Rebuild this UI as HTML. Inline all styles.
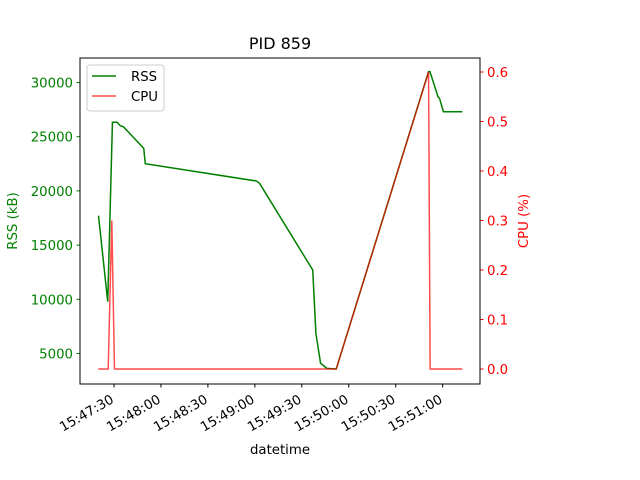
<!DOCTYPE html>
<html><head><meta charset="utf-8"><style>
html,body{margin:0;padding:0;background:#fff}
svg{display:block;font-family:"DejaVu Sans","Liberation Sans",sans-serif}
</style></head><body>
<svg id="chart" width="640" height="480" viewBox="0 0 640 480">
<rect width="640" height="480" fill="#fff"/>
<text x="280" y="49" font-size="16" text-anchor="middle">PID 859</text>
<g id="lines"></g>
<g id="xaxis"></g><g id="yleft"></g><g id="yright"></g>
<rect x="80" y="58" width="400" height="326" fill="none" stroke="#000" stroke-width="1"/>
<text x="280" y="454" font-size="13.3" text-anchor="middle">datetime</text>
<text transform="translate(17,221) rotate(-90)" font-size="13.3" text-anchor="middle" fill="green">RSS (kB)</text>
<text transform="translate(528,221) rotate(-90)" font-size="13.3" text-anchor="middle" fill="red">CPU (%)</text>
<g>
<rect x="87" y="65" width="77" height="46" rx="3" fill="#fff" fill-opacity="0.8" stroke="#ccc"/>
<line x1="92" y1="76" x2="116" y2="76" stroke="green" stroke-width="1.5"/>
<text x="131" y="81" font-size="13.3">RSS</text>
<line x1="92" y1="96" x2="116" y2="96" stroke="red" stroke-opacity="0.7" stroke-width="1.5"/>
<text x="131" y="101" font-size="13.3">CPU</text>
</g>
</svg>
<script>
// seconds after 15:47:00
const rssTimes=[20.1,26,29,32,34,36,49,50,121,123,157,159,162,166,172,231,231.9,237,238,240.5,252.6];
const rssValues=[17712,9780,26330,26330,26010,25920,23930,22510,20910,20700,12700,6860,4100,3630,3570,31000,31000,28690,28540,27300,27300];
const cpuTimes=[20,26.3,28.6,30.3,172,231,232,252.6];
const cpuValues=[0,0,0.3,0,0,0.6,0,0];
const xTickSecs=[30,60,90,120,150,180,210,240];
const xTickLabels=["15:47:30","15:48:00","15:48:30","15:49:00","15:49:30","15:50:00","15:50:30","15:51:00"];
const leftTicks=[5000,10000,15000,20000,25000,30000];
const rightTicks=[0.0,0.1,0.2,0.3,0.4,0.5,0.6];
const rightTickLabels=["0.0","0.1","0.2","0.3","0.4","0.5","0.6"];

const NS="http://www.w3.org/2000/svg";
function X(s){return 114+(s-30)*(46.95/30);}
function YL(v){return 353.5-(v-5000)*(54.2/5000);}
function YR(v){return 369-v*(49.5/0.1);}
function mk(tag,attrs,parent){const e=document.createElementNS(NS,tag);for(const k in attrs)e.setAttribute(k,attrs[k]);parent.appendChild(e);return e;}

const lines=document.getElementById('lines');
const rss=mk('polyline',{points:rssTimes.map((t,i)=>X(t)+','+YL(rssValues[i])).join(' '),fill:'none',stroke:'green','stroke-width':1.5},lines);


const cpu=mk('polyline',{points:cpuTimes.map((t,i)=>X(t)+','+YR(cpuValues[i])).join(' '),fill:'none',stroke:'red','stroke-opacity':0.7,'stroke-width':1.5},lines);



const xa=document.getElementById('xaxis');
xTickSecs.forEach((s,i)=>{
  const x=X(s);
  const tk=mk('line',{x1:x,y1:384,x2:x,y2:387.5,stroke:'#000'},xa);
  
  
  const t=mk('text',{transform:`translate(${x-4},${394}) rotate(-30)`,'font-size':13.3,'text-anchor':'end',dy:'0.7em'},xa);
  t.textContent=xTickLabels[i];
  
  
});
const yl=document.getElementById('yleft');
leftTicks.forEach(v=>{
  const y=YL(v);
  const tk=mk('line',{x1:76.5,y1:y,x2:80,y2:y,stroke:'green'},yl);
  
  
  const t=mk('text',{x:73,y:y+5,'font-size':13.3,'text-anchor':'end',fill:'green'},yl);
  t.textContent=String(v);
  
  
});
const yr=document.getElementById('yright');
rightTicks.forEach((v,i)=>{
  const y=YR(v);
  const tk=mk('line',{x1:480,y1:y,x2:483.5,y2:y,stroke:'red'},yr);
  
  
  const t=mk('text',{x:487,y:y+5,'font-size':13.3,fill:'red'},yr);
  t.textContent=rightTickLabels[i];
  
  
});
</script>
</body></html>
